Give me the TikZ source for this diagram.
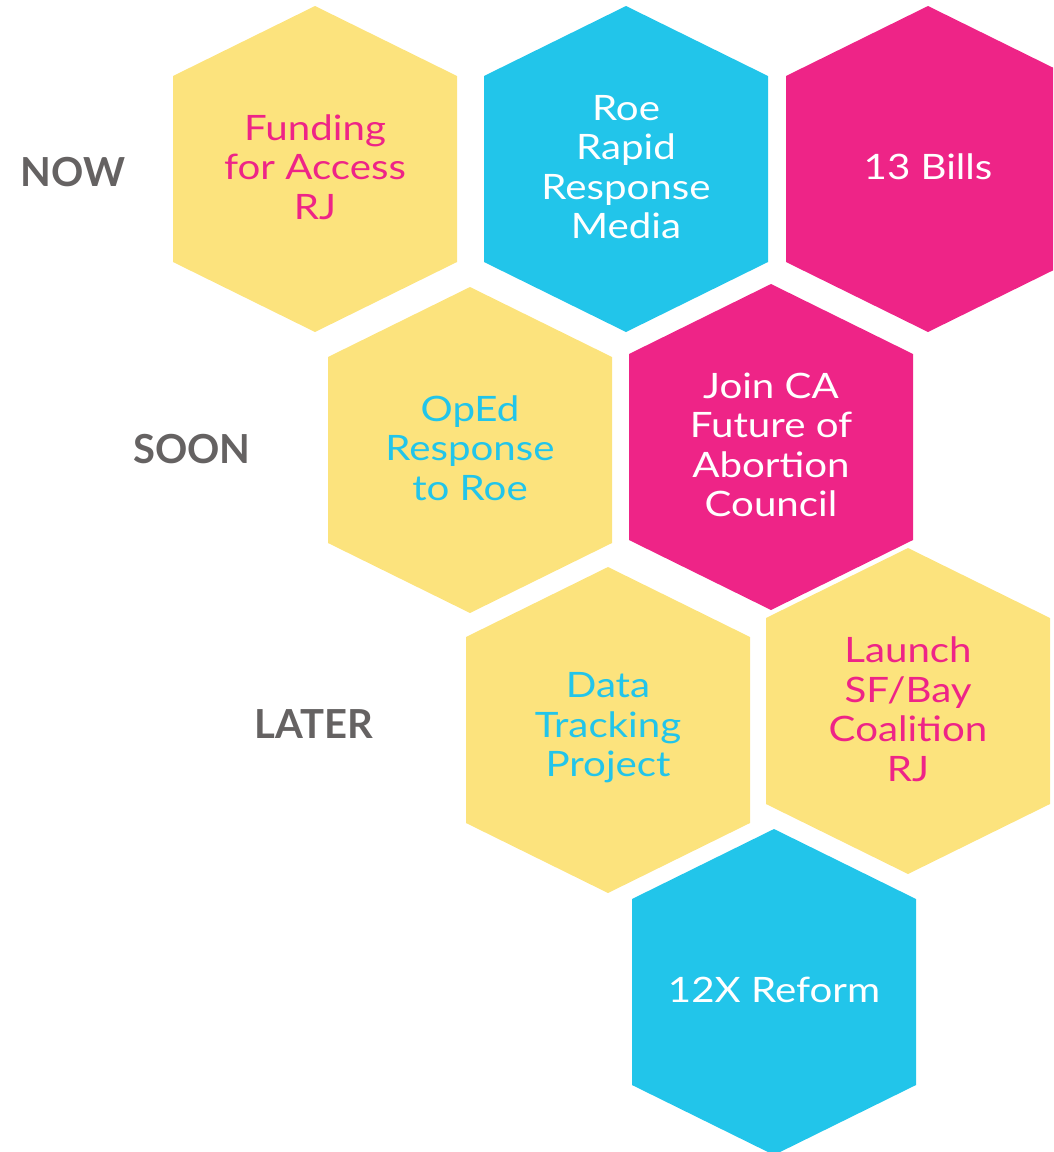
\documentclass[tikz,border=0pt]{standalone}
\usepackage{fontspec}
\setmainfont{Lato}
\newfontfamily\cellfont{Lato}[FakeStretch=1.15]
\usepackage{tikz,xcolor}
\usetikzlibrary{positioning}
\definecolor{hexyellow}{HTML}{FCE37D}
\definecolor{hexblue}{HTML}{22C5EA}
\definecolor{hexpink}{HTML}{EE2487}
\definecolor{stagegray}{HTML}{656262}

\begin{document}
\begin{tikzpicture}[
        x=1pt, y=-1pt,
        hex/.pic={\fill[#1] (-142,-93) -- (0,-163) -- (142,-93) -- (142,93) -- (0,163) -- (-142,93) -- cycle;},
        cell/.style={align=center, yshift=2pt, font=\cellfont\fontsize{35}{39.5}\selectfont},
        stage/.style={font=\fontsize{40}{44}\selectfont\bfseries, text=stagegray}
    ]
        \useasboundingbox (0,0) rectangle (1053,1152);
        \clip (0,0) rectangle (1053,1152);

        % Define cells
        \pic at (315,169) {hex=hexyellow};
        \pic at (626,169) {hex=hexblue};
        \pic at (928,169) {hex=hexpink};
        \pic at (470,450) {hex=hexyellow};
        \pic at (771,447) {hex=hexpink};
        \pic at (608,730) {hex=hexyellow};
        \pic at (908,711) {hex=hexyellow};
        \pic at (774,992) {hex=hexblue};

        % Cell texts
        \node[cell, text=hexpink] (funding) at (315,169) {Funding\\for Access\\RJ};
        \node[cell, text=white] (rapid) at (626,169) {Roe\\Rapid\\Response\\Media};
        \node[cell, text=white] (bills) at (928,169) {13 Bills};
        \node[cell, text=hexblue] (oped) at (470,450) {OpEd\\Response\\to Roe};
        \node[cell, text=white] (council) at (771,447) {Join CA\\Future of\\Abortion\\Council};
        \node[cell, text=hexblue] (tracking) at (608,730) {Data\\Tracking\\Project};
        \node[cell, text=hexpink] (coalition) at (908,711) {Launch\\SF/Bay\\Coalition\\RJ};
        \node[cell, text=white] (reform) at (774,992) {12X Reform};

        % Stages
        \node[stage] (now) at (73,172) {NOW};
        \node[stage] (soon) at (192,449) {SOON};
        \node[stage] (later) at (314,724) {LATER};

    \end{tikzpicture}
\end{document}
